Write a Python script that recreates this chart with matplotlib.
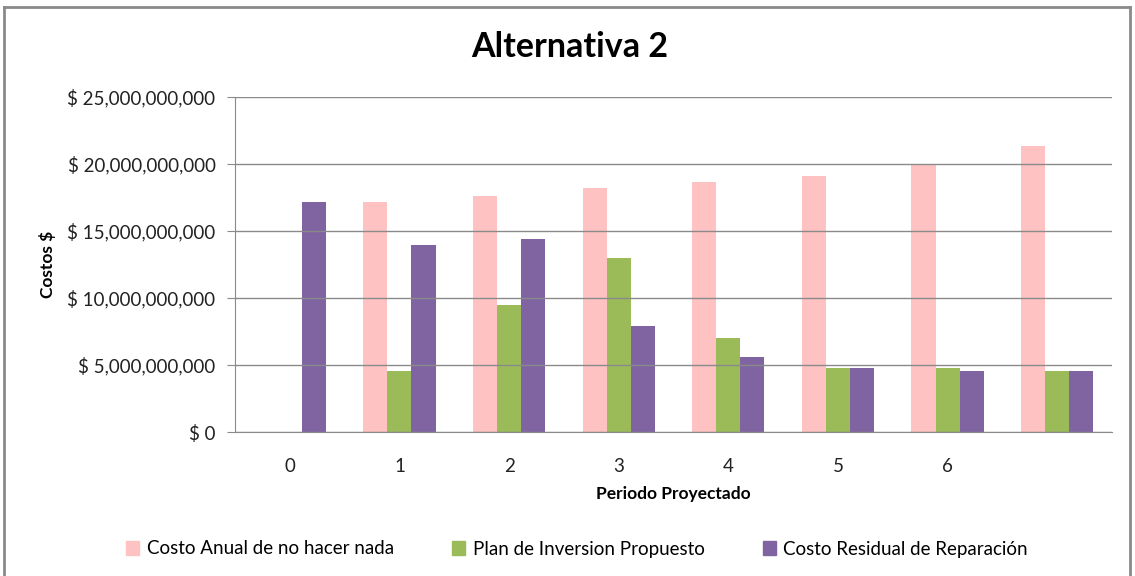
import matplotlib
matplotlib.use("Agg")
import matplotlib.pyplot as plt
import numpy as np
from matplotlib.lines import Line2D
from matplotlib.ticker import FuncFormatter

plt.rcParams['font.family'] = ['Lato', 'DejaVu Sans']

categories = ["0", "1", "2", "3", "4", "5", "6", ""]
costo_anual = [0, 17.16e9, 17.6e9, 18.2e9, 18.68e9, 19.13e9, 20.0e9, 21.32e9]
plan_inversion = [0, 4.55e9, 9.48e9, 12.98e9, 6.99e9, 4.8e9, 4.8e9, 4.58e9]
costo_residual = [17.16e9, 13.95e9, 14.4e9, 7.9e9, 5.57e9, 4.8e9, 4.58e9, 4.58e9]
series_names = ["Costo Anual de no hacer nada", "Plan de Inversion Propuesto",
                "Costo Residual de Reparación"]
colors = ["#FEC2C2", "#9BBB59", "#8064A2"]

W, H = 1135, 576
fig = plt.figure(figsize=(W / 100, H / 100), dpi=100)
ax = fig.add_axes([235 / W, 1 - 432 / H, (1112 - 235) / W, (432 - 97) / H])

x = np.arange(len(categories))
bw = 0.22
for i, (vals, c, name) in enumerate(zip([costo_anual, plan_inversion, costo_residual],
                                       colors, series_names)):
    ax.bar(x + (i - 1) * bw, vals, width=bw, color=c, label=name, zorder=2)

ax.set_xlim(-0.5, len(categories) - 0.5)
ax.set_ylim(0, 25e9)
ax.set_yticks(np.arange(0, 25e9 + 1, 5e9))
ax.yaxis.set_major_formatter(FuncFormatter(lambda v, p: "$ {:,.0f}".format(v)))
ax.set_xticks(x)
ax.set_xticklabels(categories)
ax.grid(axis='y', color='#8a8a8a', linewidth=1, zorder=1)
ax.set_axisbelow(False)
for s in ['top', 'right']:
    ax.spines[s].set_visible(False)
ax.spines['left'].set_color('#8a8a8a')
ax.spines['bottom'].set_color('#8a8a8a')
ax.tick_params(axis='y', length=6, color='#8a8a8a', labelsize=13.5, pad=8, labelcolor='#222222')
ax.tick_params(axis='x', length=0, labelsize=13.5, pad=19, labelcolor='#222222')

ax.set_xlabel("Periodo Proyectado", fontsize=12.5, fontweight='bold', labelpad=8)
ax.set_ylabel("Costos $", fontsize=12.5, fontweight='bold', labelpad=8)

fig.text(570 / W, 1 - 47 / H, "Alternativa 2", ha='center', va='center',
         fontsize=24.5, fontweight='bold')

handles = [plt.Rectangle((0, 0), 1, 1, color=c) for c in colors]
fig.legend(handles, series_names, loc='center', bbox_to_anchor=(577 / W, 1 - 549 / H),
           ncol=3, frameon=False, fontsize=13.5, handlelength=0.7, handleheight=0.7,
           handletextpad=0.4, columnspacing=3.1)

# chart border
for (x0, y0, x1, y1) in [(4, 7, 1130, 7), (4, 7, 4, 576), (1130, 7, 1130, 576)]:
    fig.add_artist(Line2D([x0 / W, x1 / W], [1 - y0 / H, 1 - y1 / H],
                          color='#8a8a8a', linewidth=2, transform=fig.transFigure))

fig.savefig("out.png", dpi=100)
